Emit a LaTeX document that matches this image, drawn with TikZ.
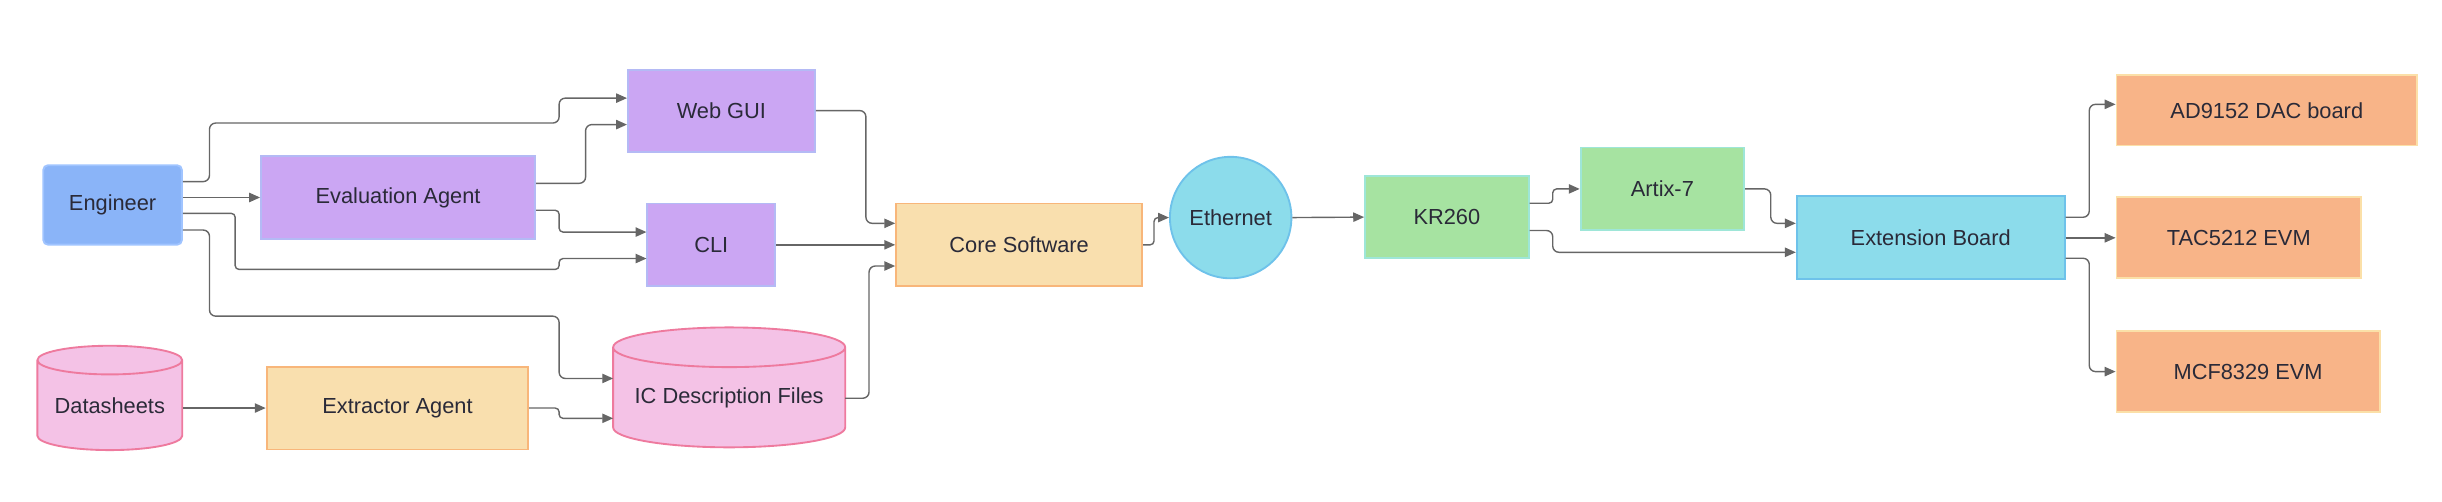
\documentclass[tikz,border=0pt]{standalone}
\usepackage{fontspec}
\setmainfont{Liberation Sans}
\usetikzlibrary{shapes.geometric,arrows.meta}
\definecolor{edgec}{HTML}{666666}
\definecolor{txt}{HTML}{2A2A38}
\tikzset{
  box/.style={draw, line width=1.2pt, inner sep=0pt, font=\fontsize{14}{16}\selectfont, text=txt},
  eng/.style={box, fill={rgb,255:red,138;green,180;blue,248}, draw={rgb,255:red,160;green,196;blue,255}, rounded corners=3pt},
  purple/.style={box, fill={rgb,255:red,203;green,166;blue,243}, draw={rgb,255:red,180;green,186;blue,245}},
  yellow/.style={box, fill={rgb,255:red,249;green,223;blue,174}, draw={rgb,255:red,248;green,182;blue,122}},
  green/.style={box, fill={rgb,255:red,166;green,227;blue,161}, draw={rgb,255:red,158;green,230;blue,216}},
  cyan/.style={box, fill={rgb,255:red,140;green,220;blue,235}, draw={rgb,255:red,110;green,194;blue,234}},
  orange/.style={box, fill={rgb,255:red,248;green,180;blue,136}, draw={rgb,255:red,251;green,224;blue,168}},
  cyl/.style={box, shape=cylinder, shape border rotate=90, cylinder uses custom fill, cylinder body fill={rgb,255:red,244;green,194;blue,230}, cylinder end fill={rgb,255:red,244;green,194;blue,230}, draw={rgb,255:red,238;green,122;blue,158}},
  e/.style={draw=edgec, line width=0.9pt, rounded corners=4pt, -{Triangle[length=7pt,width=6pt]}},
  es/.style={e, rounded corners=2.5pt},
}
\begin{document}
\begin{tikzpicture}[x=1pt,y=-1pt]
\useasboundingbox (0,0) rectangle (1568,322);
\node[eng, minimum width=89pt, minimum height=51pt] (engineer) at (72.3,131.6) {Engineer};
\node[purple, minimum width=176pt, minimum height=53pt] (eval) at (255.6,126.8) {Evaluation Agent};
\node[purple, minimum width=120pt, minimum height=53pt] (web) at (463.2,71.2) {Web GUI};
\node[purple, minimum width=82pt, minimum height=53pt] (cli) at (456.7,157.2) {CLI};
\node[cyl, aspect=0.26, minimum width=93pt, minimum height=67pt] (ds) at (70.5,260.4) {\raisebox{-10pt}{Datasheets}};
\node[yellow, minimum width=168pt, minimum height=53pt] (ext) at (255.2,262.1) {Extractor Agent};
\node[cyl, aspect=0.21, minimum width=149pt, minimum height=77pt] (ic) at (468.2,255.4) {\raisebox{-8pt}{IC Description Files}};
\node[yellow, minimum width=158pt, minimum height=53pt] (core) at (654.4,157.2) {Core Software};
\node[cyan, ellipse, minimum width=78pt, minimum height=78pt] (eth) at (790.2,139.7) {Ethernet};
\node[green, minimum width=105pt, minimum height=53pt] (kr) at (929,139.4) {KR260};
\node[green, minimum width=105pt, minimum height=53pt] (artix) at (1067.4,121.2) {Artix-7};
\node[cyan, minimum width=172pt, minimum height=53pt] (extb) at (1239.7,152.5) {Extension Board};
\node[orange, minimum width=193pt, minimum height=45pt] (ad) at (1455.5,70.9) {AD9152 DAC board};
\node[orange, minimum width=157pt, minimum height=52pt] (tac) at (1437.5,152.7) {TAC5212 EVM};
\node[orange, minimum width=169pt, minimum height=52pt] (mcf) at (1443.5,238.6) {MCF8329 EVM};
% edges
\draw[e] (engineer.east |- 0,116.6) -- (134.5,116.6) -- (134.5,79) -- (359,79) -- (359,63) -- (web.west |- 0,63);
\draw[e] (engineer.east |- 0,126.8) -- (eval.west |- 0,126.8);
\draw[es] (engineer.east |- 0,137) -- (151,137) -- (151,173) -- (359,173) -- (359,166) -- (cli.west |- 0,166);
\draw[e] (engineer.east |- 0,147.7) -- (134.5,147.7) -- (134.5,203) -- (359,203) -- (359,243) -- (393.7,243);
\draw[e] (eval.east |- 0,117.7) -- (376,117.7) -- (376,80) -- (web.west |- 0,80);
\draw[es] (eval.east |- 0,135) -- (359,135) -- (359,149) -- (cli.west |- 0,149);
\draw[e] (ds.east |- 0,262) -- (ext.west |- 0,262);
\draw[es] (ext.east |- 0,262) -- (359,262) -- (359,268.6) -- (393.7,268.6);
\draw[e] (web.east |- 0,71) -- (556,71) -- (556,143.4) -- (core.west |- 0,143.4);
\draw[e] (cli.east |- 0,157.2) -- (core.west |- 0,157.2);
\draw[e] (542.6,255.7) -- (558,255.7) -- (558,170.8) -- (core.west |- 0,170.8);
\draw[es] (core.east |- 0,157.2) -- (741,157.2) -- (741,139.7) -- (eth.west);
\draw[e] (eth.east) -- (kr.west);
\draw[es] (kr.east |- 0,130.5) -- (997,130.5) -- (997,121.3) -- (artix.west |- 0,121.3);
\draw[e] (kr.east |- 0,148) -- (997,148) -- (997,162) -- (extb.west |- 0,162);
\draw[e] (artix.east |- 0,121.3) -- (1137,121.3) -- (1137,143.4) -- (extb.west |- 0,143.4);
\draw[e] (extb.east |- 0,139.5) -- (1341.5,139.5) -- (1341.5,67) -- (ad.west |- 0,67);
\draw[e] (extb.east |- 0,152.7) -- (tac.west |- 0,152.7);
\draw[e] (extb.east |- 0,165.8) -- (1341.5,165.8) -- (1341.5,238.6) -- (mcf.west |- 0,238.6);
\end{tikzpicture}
\end{document}
